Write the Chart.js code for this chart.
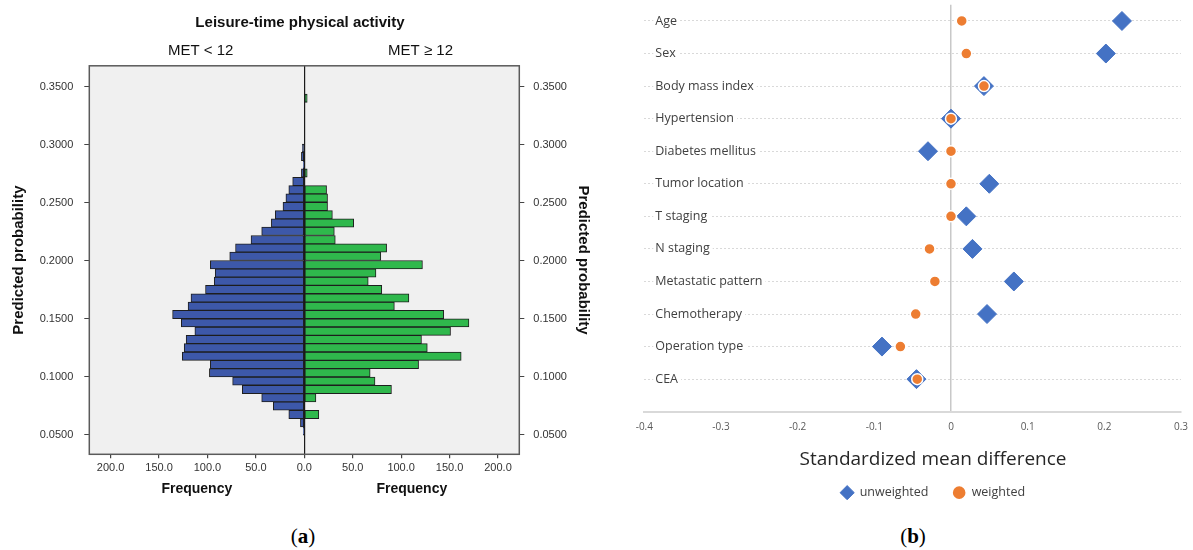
<!DOCTYPE html>
<html>
<head>
<meta charset="utf-8">
<script src="https://cdn.jsdelivr.net/npm/chart.js@4/dist/chart.umd.min.js"></script>
<style>
	body { margin: 0; width: 1193px; height: 550px; overflow: hidden; background: #fff; position: relative; }
	#panelA { position: absolute; left: 0; top: 0; }
	#panelB { position: absolute; left: 600px; top: 0; }
	.tag { position: absolute; top: 524px; width: 80px; text-align: center; font: 21px "Liberation Serif", "DejaVu Serif", serif; color: #000; }
</style>
</head>
<body>
<canvas id="panelA" width="600" height="515"></canvas>
<canvas id="panelB" width="666" height="515"></canvas>
<div class="tag" style="left:263px">(<b>a</b>)</div>
<div class="tag" style="left:873px">(<b>b</b>)</div>
<script>
"use strict";
/* globals Chart */

// (a) propensity score histogram, bins from bottom (0.05) to top (0.34)
const probBins = [
	0.05314, 0.06032, 0.06749, 0.07467, 0.08184, 0.08902, 0.09619, 0.10337, 0.11054, 0.11772,
	0.12489, 0.13207, 0.13924, 0.14642, 0.15359, 0.16077, 0.16794, 0.17512, 0.18229, 0.18947,
	0.19664, 0.20382, 0.21099, 0.21817, 0.22534, 0.23252, 0.23969, 0.24687, 0.25404, 0.26122,
	0.26839, 0.27557, 0.28274, 0.28992, 0.29709, 0.30427, 0.31144, 0.31862, 0.32579, 0.33297,
	0.34014
];
const lowCounts = [
	1, 4, 16, 32, 44, 64, 74, 98, 97, 126,
	124, 122, 113, 127, 136, 120, 117, 102, 93, 92,
	97, 77, 71, 55, 44, 34, 30, 22, 19, 16,
	12, 3, 1, 3, 2, 0, 0, 0, 0, 0,
	0
];
const highCounts = [
	0, 0, 15, 0, 12, 90, 73, 68, 118, 162,
	127, 121, 151, 170, 144, 93, 108, 80, 66, 74,
	122, 79, 85, 32, 31, 51, 29, 24, 24, 23,
	0, 3, 0, 0, 0, 0, 0, 0, 0, 0,
	3
];

// (b) covariate balance
const covariates = ['Age', 'Sex', 'Body mass index', 'Hypertension', 'Diabetes mellitus', 'Tumor location',
	'T staging', 'N staging', 'Metastatic pattern', 'Chemotherapy', 'Operation type', 'CEA'];
const unweighted = [0.223, 0.202, 0.043, 0.000, -0.030, 0.050, 0.020, 0.028, 0.082, 0.047, -0.090, -0.045];
const weighted = [0.014, 0.020, 0.043, 0.000, 0.000, 0.000, 0.000, -0.028, -0.021, -0.046, -0.066, -0.044];

const sansA = '"Liberation Sans", Arial, sans-serif';
const sansB = '"Open Sans", sans-serif';

const plotBox = {
	id: 'plotBox',
	beforeDraw: function(chart) {
		const a = chart.chartArea;
		const ctx = chart.ctx;
		ctx.save();
		ctx.fillStyle = '#f0f0f0';
		ctx.fillRect(a.left, a.top, a.width, a.height);
		ctx.restore();
	},
	afterDatasetsDraw: function(chart) {
		const a = chart.chartArea;
		const ctx = chart.ctx;
		ctx.save();
		ctx.strokeStyle = '#5a5a5a';
		ctx.lineWidth = 1.5;
		ctx.strokeRect(a.left, a.top, a.width, a.height);
		ctx.restore();
	}
};

const halfLabels = {
	id: 'halfLabels',
	afterDraw: function(chart) {
		const ctx = chart.ctx;
		const x = chart.scales.x;
		ctx.save();
		ctx.fillStyle = '#111';
		ctx.textAlign = 'center';
		ctx.textBaseline = 'middle';
		ctx.font = '15px ' + sansA;
		ctx.fillText('MET < 12', x.getPixelForValue(-107), 51);
		ctx.fillText('MET \u2265 12', x.getPixelForValue(120), 51);
		ctx.font = 'bold 14px ' + sansA;
		ctx.fillText('Frequency', x.getPixelForValue(-111), 489);
		ctx.fillText('Frequency', x.getPixelForValue(111), 489);
		ctx.restore();
	}
};

function probAxis(position, pad) {
	return {
		type: 'linear',
		position: position,
		min: 0.0331,
		max: 0.3681,
		offset: false,
		ticks: {
			stepSize: 0.05,
			includeBounds: false,
			padding: position === 'left' ? 11 : 9,
			color: '#333',
			font: { family: sansA, size: 11 },
			callback: function(v) { return v.toFixed(4); }
		},
		grid: { offset: false, drawOnChartArea: false, drawTicks: true, tickLength: 5, tickColor: '#444' },
		border: { display: false },
		title: {
			display: true,
			text: 'Predicted probability',
			color: '#111',
			font: { family: sansA, size: 15, weight: 'bold' },
			padding: { top: pad, bottom: 0 }
		},
		afterFit: function(s) { s.width = position === 'left' ? 89.3 : 80.7; }
	};
}

function histogramConfig() {
	return {
		type: 'bar',
		data: {
			datasets: [
				{
					label: 'MET < 12',
					data: probBins.map(function(p, i) { return { x: -lowCounts[i], y: p }; }),
					backgroundColor: '#3d58a9',
					borderColor: '#1e1e1e',
					borderWidth: 1,
					borderSkipped: false,
					grouped: false,
					barPercentage: 1.0,
					categoryPercentage: 1.0
				},
				{
					label: 'MET \u2265 12',
					data: probBins.map(function(p, i) { return { x: highCounts[i], y: p }; }),
					backgroundColor: '#2fb84c',
					borderColor: '#1e1e1e',
					borderWidth: 1,
					borderSkipped: false,
					grouped: false,
					barPercentage: 1.0,
					categoryPercentage: 1.0
				}
			]
		},
		options: {
			indexAxis: 'y',
			responsive: false,
			animation: false,
			events: [],
			layout: { padding: 0 },
			scales: {
				x: {
					type: 'linear',
					min: -222,
					max: 222,
					ticks: {
						stepSize: 50,
						includeBounds: false,
						autoSkip: false,
						maxRotation: 0,
						padding: 3,
						color: '#333',
						font: { family: sansA, size: 11 },
						callback: function(v) { return Math.abs(v).toFixed(1); }
					},
					grid: {
						color: function(c) { return c.tick && c.tick.value === 0 ? '#1a1a1a' : 'rgba(0,0,0,0)'; },
						lineWidth: 1.2,
						tickLength: 4,
						tickColor: '#444'
					},
					border: { display: false },
					afterFit: function(s) { s.height = 60.7; }
				},
				y: probAxis('left', 10),
				y2: probAxis('right', 8)
			},
			plugins: {
				legend: { display: false },
				tooltip: { enabled: false },
				title: {
					display: true,
					text: 'Leisure-time physical activity',
					color: '#111',
					font: { family: sansA, size: 15, weight: 'bold' },
					padding: { top: 14.3, bottom: 33.5 }
				}
			}
		},
		plugins: [plotBox, halfLabels]
	};
}

function balanceConfig() {
	const n = covariates.length;
	return {
		type: 'scatter',
		data: {
			datasets: [
				{
					label: 'unweighted',
					data: unweighted.map(function(v, i) { return { x: v, y: n - i }; }),
					pointStyle: 'rectRot',
					pointRadius: 9.5,
					backgroundColor: '#4472c4',
					borderColor: '#4472c4',
					borderWidth: 1,
					order: 1
				},
				{
					label: 'weighted',
					data: weighted.map(function(v, i) { return { x: v, y: n - i }; }),
					pointStyle: 'circle',
					pointRadius: 5.5,
					backgroundColor: '#ed7d31',
					borderColor: '#ffffff',
					borderWidth: 1.5,
					order: 0
				}
			]
		},
		options: {
			responsive: false,
			animation: false,
			events: [],
			layout: { autoPadding: false, padding: { top: 4.7, bottom: 6.1, left: 0, right: 0 } },
			scales: {
				x: {
					type: 'linear',
					min: -0.4,
					max: 0.3,
					ticks: {
						stepSize: 0.1,
						autoSkip: false,
						maxRotation: 0,
						padding: 9,
						color: '#595959',
						font: { family: sansB, size: 10 },
						callback: function(v) { return String(Math.round(v * 10) / 10); }
					},
					grid: {
						color: function(c) { return c.tick && Math.abs(c.tick.value) < 1e-9 ? '#c8c8c8' : 'rgba(0,0,0,0)'; },
						lineWidth: 1.5,
						drawTicks: false
					},
					border: { display: true, color: '#d9d9d9', width: 2 },
					afterFit: function(s) { s.height = 20; }
				},
				y: {
					type: 'linear',
					min: 0,
					max: 12.5,
					afterBuildTicks: function(s) {
						s.ticks = covariates.map(function(c, i) { return { value: n - i }; });
					},
					ticks: {
						mirror: true,
						padding: 11,
						color: '#404040',
						font: { family: sansB, size: 12.5 },
						showLabelBackdrop: true,
						backdropColor: '#ffffff',
						backdropPadding: { left: 2, right: 3, top: 0, bottom: 0 },
						callback: function(v) { return covariates[n - v]; }
					},
					grid: { color: '#d9d9d9', lineWidth: 1, drawTicks: false },
					border: { display: false, dash: [2, 2] },
					afterFit: function(s) {
						s.width = 44.3;
						s.paddingTop = 0;
						s.paddingBottom = 0;
					}
				},
				yR: {
					type: 'linear',
					position: 'right',
					display: true,
					grid: { display: false },
					ticks: { display: false },
					border: { display: false },
					afterFit: function(s) {
						s.width = 85;
						s.paddingTop = 0;
						s.paddingBottom = 0;
					}
				}
			},
			plugins: {
				tooltip: { enabled: false },
				title: {
					display: true,
					position: 'bottom',
					weight: 500,
					text: 'Standardized mean difference',
					color: '#262626',
					font: { family: sansB, size: 19, weight: 'normal', lineHeight: 0.2 },
					padding: { top: 26.4, bottom: 0 }
				},
				legend: {
					position: 'bottom',
					labels: {
						usePointStyle: true,
						boxWidth: 12.5,
						boxHeight: 10,
						padding: 24.5,
						color: '#404040',
						font: { family: sansB, size: 12.5 },
						sort: function(a, b) { return a.datasetIndex - b.datasetIndex; }
					}
				}
			}
		}
	};
}

new Chart(document.getElementById('panelA'), histogramConfig());
new Chart(document.getElementById('panelB'), balanceConfig());
</script>
</body>
</html>
